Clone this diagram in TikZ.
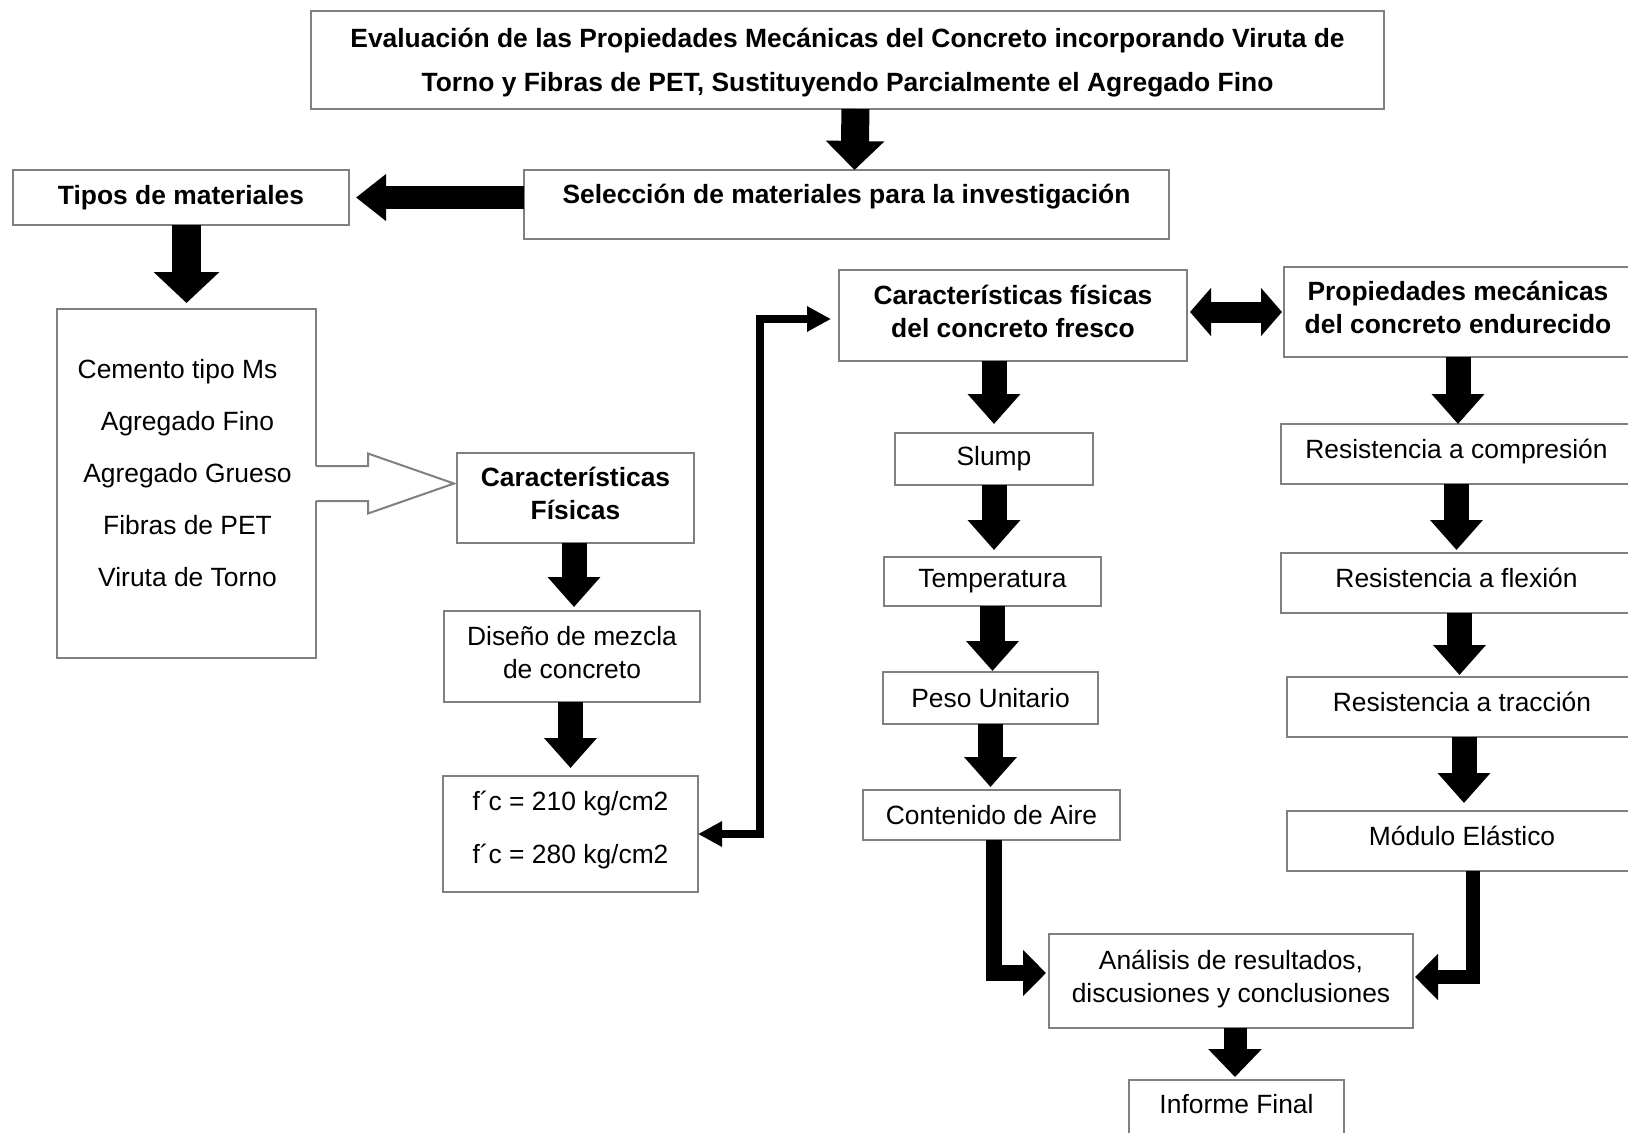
\documentclass[tikz,border=0pt]{standalone}
\usepackage{fontspec}
\setmainfont{Liberation Sans}
\usetikzlibrary{calc,arrows.meta}

\begin{document}
\begin{tikzpicture}[x=0.5pt,y=-0.5pt,inner sep=0pt,outer sep=0pt,
	caja/.style={draw=gray,line width=1pt,rectangle,align=center,font=\fontsize{13.2}{16.5}\selectfont},
	negrita/.style={caja,font=\fontsize{13.2}{16.5}\selectfont\bfseries},
	liftxt/.style={text height=9pt,text depth=5pt},
	dosl/.style={text height=26pt,text depth=4.5pt}]
	\useasboundingbox (0,0) rectangle (1628,1132);
	% cabecera
	\node[negrita,minimum width=536.5pt,minimum height=49pt,text height=35pt,text depth=3.2pt,font=\fontsize{13.2}{22}\selectfont\bfseries] (title) at (847.5,60) {Evaluación de las Propiedades Mecánicas del Concreto incorporando Viruta de\\Torno y Fibras de PET, Sustituyendo Parcialmente el Agregado Fino};
	\node[negrita,minimum width=322.5pt,minimum height=34.5pt,text height=9pt,text depth=10pt] (sel) at (846.5,204.5) {Selección de materiales para la investigación};
	\node[negrita,minimum width=168pt,minimum height=27.5pt] (tipos) at (181,197.5) {Tipos de materiales};
	% materiales
	\node[caja,minimum width=129.5pt,minimum height=174.5pt] (mat) at (186.5,483.5) {};
	\node[align=center,font=\fontsize{13.2}{26}\selectfont] (lista) at (187.5,473) {Cemento tipo Ms\hspace*{10pt}\\Agregado Fino\\Agregado Grueso\\Fibras de PET\\Viruta de Torno};
	\node[negrita,dosl,minimum width=118.5pt,minimum height=45pt] (carf) at (575.5,498) {Características\\Físicas};
	\node[caja,dosl,minimum width=128pt,minimum height=45.5pt] (dis) at (572,656.5) {Diseño de mezcla\\de concreto};
	\node[caja,minimum width=127.5pt,minimum height=58pt,text height=33pt,text depth=4pt,font=\fontsize{13.2}{26.5}\selectfont] (fc) at (570.5,834) {f´c = 210 kg/cm2\\f´c = 280 kg/cm2};
	% concreto fresco
	\node[negrita,dosl,minimum width=174pt,minimum height=45.5pt] (fres) at (1013,315.5) {Características físicas\\del concreto fresco};
	\node[caja,minimum width=99pt,minimum height=26pt] (slump) at (994,459) {Slump};
	\node[caja,minimum width=108.5pt,minimum height=24.5pt] (temp) at (992.5,581.5) {Temperatura};
	\node[caja,minimum width=107.5pt,minimum height=26pt] (peso) at (990.5,698) {Peso Unitario};
	\node[caja,minimum width=128.5pt,minimum height=25pt] (cont) at (991.5,815) {Contenido de Aire};
	% concreto endurecido
	\node[negrita,dosl,minimum width=174pt,minimum height=45pt] (prop) at (1458,312) {Propiedades mecánicas\\del concreto endurecido};
	\node[caja,liftxt,minimum width=175.5pt,minimum height=30pt] (comp) at (1456.5,454) {Resistencia a compresión};
	\node[caja,liftxt,minimum width=175.5pt,minimum height=30pt] (flex) at (1456.5,583) {Resistencia a flexión};
	\node[caja,liftxt,minimum width=175pt,minimum height=30pt] (trac) at (1462,707) {Resistencia a tracción};
	\node[caja,liftxt,minimum width=175pt,minimum height=30pt] (mod) at (1462,841) {Módulo Elástico};
	% cierre
	\node[caja,dosl,minimum width=182pt,minimum height=47pt] (anal) at (1231,981) {Análisis de resultados,\\discusiones y conclusiones};
	\node[caja,text height=9pt,text depth=4pt,minimum width=107.5pt,minimum height=28pt] (inf) at (1236.5,1108) {Informe Final};
	\coordinate (bend) at (760,319);
	% flecha hueca
	\fill[white] ([xshift=-0.7pt,yshift=8.75pt]mat.east) rectangle ([xshift=0.7pt,yshift=-8.75pt]mat.east);
	\draw[gray,line width=1pt,fill=white] ([yshift=8.75pt]mat.east) -- ++(52,0) -- ++(0,-12.5) -- ($(carf.west |- mat.east)+(-3,0)$) -- ($(mat.east)+(52,30)$) -- ++(0,-12.5) -- ([yshift=-8.75pt]mat.east);
	\begin{scope}[line width=12.5pt,-{Triangle[width=25.5pt,length=15pt]}]
	\draw[line width=14pt,-{Triangle[width=28.5pt,length=14.5pt]}] ([xshift=4pt]title.south) -- ([xshift=4pt]sel.north);
	\draw[line width=11.5pt,-{Triangle[width=22.5pt,length=15pt]},shorten >=3.5pt] (sel.west |- tipos.east) -- (tipos.east);
	\draw[line width=14.5pt,-{Triangle[width=32pt,length=15.5pt]},shorten >=3pt] (tipos.south -| mat.north) -- (mat.north);
	\draw[shorten >=2pt] (carf.south -| 574,0) -- (dis.north -| 574,0);
	\draw[shorten >=4pt] (dis.south -| fc.north) -- (fc.north);
	\draw[shorten >=4.5pt] (slump.north |- fres.south) -- (slump.north);
	\draw[shorten >=3.5pt] (slump.south) -- (slump.south |- temp.north);
	\draw[shorten >=0.5pt] (temp.south) -- (temp.south |- peso.north);
	\draw[shorten >=1.5pt] (peso.south) -- (peso.south |- cont.north);
	\draw (prop.south) -- (prop.south |- comp.north);
	\draw[shorten >=1.5pt] (comp.south) -- (comp.south |- flex.north);
	\draw[shorten >=1pt] ([xshift=1.5pt]flex.south) -- ([xshift=1.5pt]flex.south |- trac.north);
	\draw[shorten >=4pt] ([xshift=1pt]trac.south) -- ([xshift=1pt]trac.south |- mod.north);
	\draw[line width=11.5pt,-{Triangle[width=26pt,length=14pt]},shorten >=1.5pt] ([xshift=2pt]anal.south) -- ([xshift=2pt]anal.south |- inf.north);
	\draw[line width=10.5pt,{Triangle[width=23.5pt,length=10.5pt]}-{Triangle[width=23.5pt,length=10.5pt]},shorten <=1.5pt,shorten >=1pt] (fres.east |- prop.west) -- (prop.west);
	\draw[line width=8pt,-{Triangle[width=22.5pt,length=11.5pt]},shorten >=1.5pt] ([xshift=1pt]cont.south) |- ([yshift=4pt]anal.west);
	\draw[line width=7pt,-{Triangle[width=22.5pt,length=11.5pt]},shorten >=1pt] ([xshift=5.5pt]mod.south) |- ([yshift=2pt]anal.east);
	\end{scope}
	\draw[line width=4pt,{Triangle[width=12pt,length=12pt]}-{Triangle[width=12pt,length=12pt]},shorten >=4pt] (fc.east) -| (bend) -- (bend -| fres.west);
\end{tikzpicture}
\end{document}
